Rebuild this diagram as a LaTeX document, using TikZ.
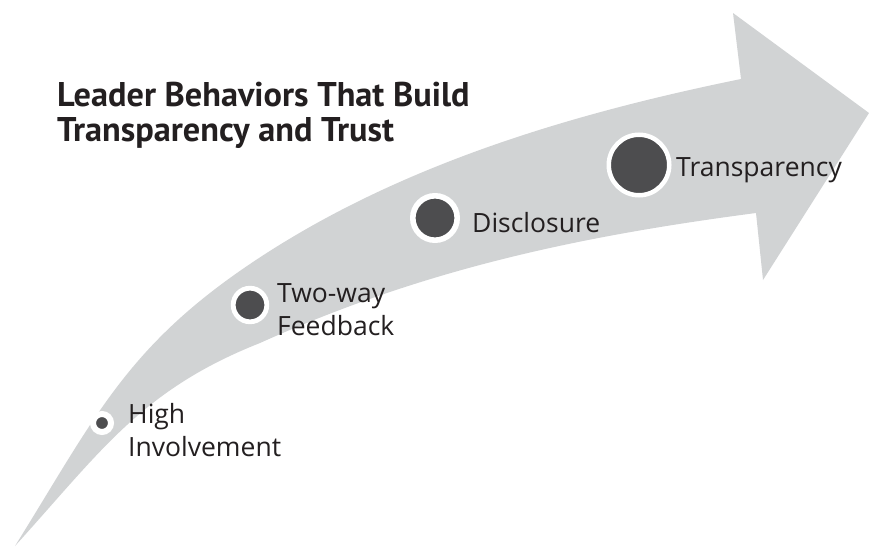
\documentclass[tikz,border=0pt]{standalone}
\usepackage{fontspec}
\setmainfont{Open Sans}
\newfontfamily\titlefont{PT Sans}
\definecolor{arrowgray}{HTML}{D1D3D4}
\definecolor{dotgray}{HTML}{4D4D4F}
\definecolor{inktext}{HTML}{231F20}
\tikzset{
  dot/.style={circle, fill=dotgray, draw=white, inner sep=0pt},
  lbl/.style={anchor=base west, inner sep=0pt, align=left, text=inktext,
    font=\fontsize{26.5}{33}\selectfont},
}

\begin{document}
\begin{tikzpicture}[x=1pt,y=-1pt]
\useasboundingbox (0,0) rectangle (869,546);
% the big curved arrow
\fill[arrowgray] (15,546) .. controls (94.5,418.5) and (125.5,348) .. (250,264)
  .. controls (395,166) and (569.5,114) .. (741,79)
  -- (733,13) -- (869,113) -- (763,280) -- (756,213)
  .. controls (577.8,236.4) and (423.8,269.2) .. (260,343)
  .. controls (142,389.7) and (102,450) .. (15,546) -- cycle;

% base of the last line is given for two-line texts
\node[anchor=base west, inner sep=0pt, align=left, text=inktext,
  font=\titlefont\bfseries\fontsize{34.3}{34.5}\selectfont] (title) at (57,141)
  {Leader Behaviors That Build\\Transparency and Trust};

% steps
\node[dot, minimum size=18pt, line width=6pt] (high) at (102,423) {};
\node[dot, minimum size=33.6pt, line width=4.8pt] (twoway) at (250,305) {};
\node[dot, minimum size=44.4pt, line width=5.6pt] (discl) at (435,218) {};
\node[dot, minimum size=60.5pt, line width=4.5pt] (transp) at (639,165) {};

\node[lbl] (highlbl) at (128,456) {High\\Involvement};
\node[lbl] (twowaylbl) at (277,335) {Two-way\\Feedback};
\node[lbl] (discllbl) at (472,232) {Disclosure};
\node[lbl] (transplbl) at (676,176) {Transparency};
\end{tikzpicture}
\end{document}
